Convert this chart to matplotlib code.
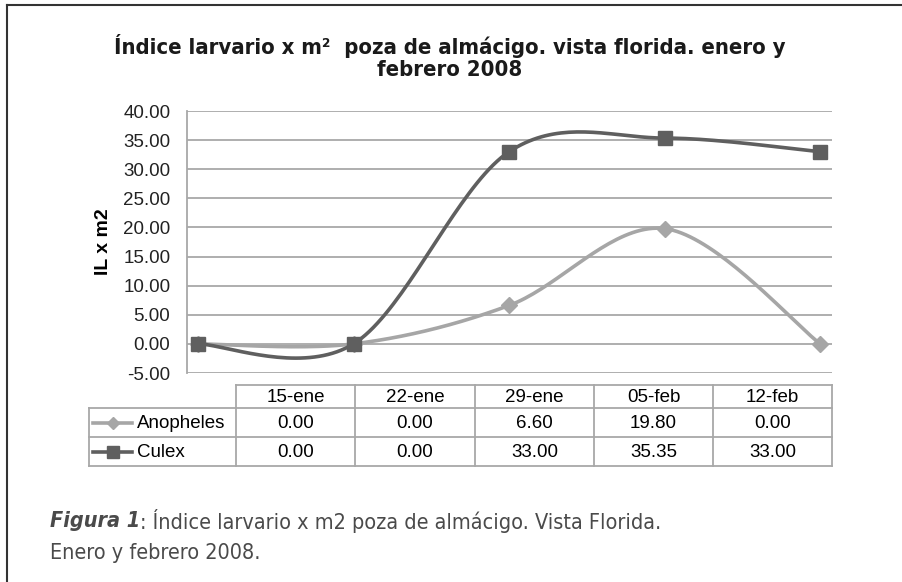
import numpy as np
import matplotlib.pyplot as plt
from matplotlib.lines import Line2D

fechas = ["15-ene", "22-ene", "29-ene", "05-feb", "12-feb"]
anopheles = [0.00, 0.00, 6.60, 19.80, 0.00]
culex = [0.00, 0.00, 33.00, 35.35, 33.00]
series = ["Anopheles", "Culex"]

titulo = "Índice larvario x m²  poza de almácigo. vista florida. enero y\nfebrero 2008"
ylabel = "IL x m2"
pie_bold = "Figura 1"
pie_1 = ": Índice larvario x m2 poza de almácigo. Vista Florida."
pie_2 = "Enero y febrero 2008."

c_anoph = "#a6a6a6"
c_culex = "#5f5f5f"
c_grid = "#a8a8a8"
arial = ["Liberation Sans", "DejaVu Sans"]
narrow = dict(family=["DejaVu Sans"], stretch="condensed")


def smooth(y, n=40):
    # excel-like smoothed line (catmull-rom as bezier)
    x = np.arange(len(y), dtype=float)
    y = np.asarray(y, dtype=float)
    xs, ys = [], []
    for i in range(len(y) - 1):
        i0, i3 = max(i - 1, 0), min(i + 2, len(y) - 1)
        p0 = np.array([x[i], y[i]])
        p3 = np.array([x[i + 1], y[i + 1]])
        b1 = p0 + (p3 - np.array([x[i0], y[i0]])) / 6
        b2 = p3 - (np.array([x[i3], y[i3]]) - p0) / 6
        t = np.linspace(0, 1, n)[:, None]
        pts = (1 - t) ** 3 * p0 + 3 * (1 - t) ** 2 * t * b1 + 3 * (1 - t) * t ** 2 * b2 + t ** 3 * p3
        xs.extend(pts[:, 0])
        ys.extend(pts[:, 1])
    return xs, ys


W, H = 902, 582
fig = plt.figure(figsize=(W / 100, H / 100), dpi=100)

# overlay in pixel coords for frame, table and captions
ov = fig.add_axes([0, 0, 1, 1])
ov.set_xlim(0, W)
ov.set_ylim(H, 0)
ov.axis("off")

ax = fig.add_axes([187 / W, (H - 373) / H, (832 - 187) / W, (373 - 111) / H])
ax.set_facecolor("none")
for s in ["top", "right", "bottom"]:
    ax.spines[s].set_visible(False)
ax.spines["left"].set_color(c_grid)
ax.spines["left"].set_linewidth(1.3)
ax.set_ylim(-5, 40)
ax.set_yticks(np.arange(-5, 41, 5))
ax.set_yticklabels([f"{v:.2f}" for v in np.arange(-5, 41, 5)], fontsize=13.5, family=arial, color="#222222")
ax.tick_params(axis="y", length=0, pad=12)
ax.set_xticks([])
ax.grid(axis="y", color=c_grid, linewidth=1.3)
ax.set_axisbelow(True)
ax.set_xlim(-0.07, 4.075)
ax.set_ylabel(ylabel, fontsize=14, fontweight="bold", family=arial, labelpad=8)

xa, ya = smooth(anopheles)
ax.plot(xa, ya, color=c_anoph, lw=2.6, solid_capstyle="round")
ax.plot(range(len(anopheles)), anopheles, ls="none", marker="D", ms=8, color=c_anoph)
xc, yc = smooth(culex)
ax.plot(xc, yc, color=c_culex, lw=2.6, solid_capstyle="round")
ax.plot(range(len(culex)), culex, ls="none", marker="s", ms=10, color=c_culex)

# frame
ov.plot([7, 7], [5, H], color="#333333", lw=1.5)
ov.plot([7, W], [5, 5], color="#333333", lw=1.5)

# title
ov.text(450, 57, titulo, ha="center", va="center", fontsize=15.8, fontweight="bold",
        linespacing=1.1, color="#1a1a1a", **narrow)

# data table
cols = [236, 355, 475, 594, 713, 832]
rows = [385, 408, 437, 466]
tl = dict(color=c_grid, lw=1.3)
ov.plot([cols[0], cols[-1]], [rows[0], rows[0]], **tl)
for r in rows[1:]:
    ov.plot([89, cols[-1]], [r, r], **tl)
for c in cols:
    ov.plot([c, c], [rows[0], rows[-1]], **tl)
ov.plot([89, 89], [rows[1], rows[-1]], **tl)
for j, f in enumerate(fechas):
    xc_ = (cols[j] + cols[j + 1]) / 2
    ov.text(xc_, (rows[0] + rows[1]) / 2 + 1, f, ha="center", va="center", fontsize=13.5, family=arial)
    for k, vals in enumerate([anopheles, culex]):
        ov.text(xc_, (rows[k + 1] + rows[k + 2]) / 2 + 1, f"{vals[j]:.2f}", ha="center", va="center",
                fontsize=13.5, family=arial)
keys = [(c_anoph, "D", 6), (c_culex, "s", 8)]
for k, (name, (col, mk, ms)) in enumerate(zip(series, keys)):
    yk = (rows[k + 1] + rows[k + 2]) / 2
    ov.add_line(Line2D([93, 132], [yk, yk], color=col, lw=2.6))
    ov.plot([113], [yk], marker=mk, ms=ms, color=col)
    ov.text(137, yk + 1, name, ha="left", va="center", fontsize=13.5, family=arial)

# caption
t1 = ov.text(50, 521, pie_bold, ha="left", va="center", fontsize=15.5, fontweight="bold",
             style="italic", color="#4a4a4a", **narrow)
ov.annotate(pie_1, xy=(1, 0.5), xycoords=t1, ha="left", va="center", fontsize=15.5,
            color="#4a4a4a", **narrow)
ov.text(50, 553, pie_2, ha="left", va="center", fontsize=15.5, color="#4a4a4a", **narrow)

fig.savefig("out.png", dpi=100)
